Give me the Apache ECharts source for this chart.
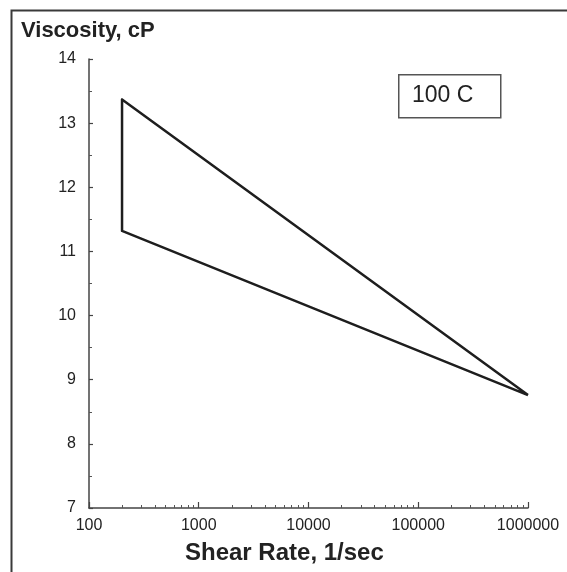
<!DOCTYPE html>
<html>
<head>
<meta charset="utf-8">
<script src="https://cdn.jsdelivr.net/npm/echarts@6/dist/echarts.min.js"></script>
<style>
html,body{margin:0;padding:0;background:#fff;}
#chart{width:567px;height:572px;}
</style>
</head>
<body>
<div id="chart"></div>
<script>
// Data (log x axis)
const shearRate = [1000000, 200, 200, 1000000];
const viscosity = [8.76, 13.37, 11.32, 8.76];
const xMajorTicks = [100, 1000, 10000, 100000, 1000000];
const xMinorTicks = [200,300,400,500,600,700,800,900,2000,3000,4000,5000,6000,7000,8000,9000,20000,30000,40000,50000,60000,70000,80000,90000,200000,300000,400000,500000,600000,700000,800000,900000];
const yTicks = [7, 8, 9, 10, 11, 12, 13, 14];
const yTitle = 'Viscosity, cP';
const xTitle = 'Shear Rate, 1/sec';
const note = '100 C';

const chart = echarts.init(document.getElementById('chart'));
const fontFam = '"Liberation Sans", Arial, sans-serif';
const ink = '#222';
const grid = {left: 89, right: 39, top: 59, bottom: 64};

chart.setOption({
  animation: false,
  backgroundColor: '#fff',
  grid: grid,
  xAxis: [{
    type: 'log', logBase: 10, min: 100, max: 1000000,
    axisLine: {show: true, lineStyle: {color: '#444', width: 1.5}},
    axisTick: {show: true, inside: true, length: 6, lineStyle: {color: '#444', width: 1.2}, customValues: xMajorTicks},
    axisLabel: {show: true, margin: 10, color: ink, fontSize: 16, fontFamily: fontFam, customValues: xMajorTicks, formatter: v => String(v)},
    splitLine: {show: false}, minorTick: {show: false}
  }, {
    type: 'log', logBase: 10, min: 100, max: 1000000, position: 'bottom',
    axisLine: {show: false},
    axisTick: {show: true, inside: true, length: 3, lineStyle: {color: '#555', width: 1}, customValues: xMinorTicks},
    axisLabel: {show: false},
    splitLine: {show: false}
  }],
  yAxis: {
    type: 'value', min: 7, max: 14, interval: 1,
    axisLine: {show: true, lineStyle: {color: '#444', width: 1.5}},
    axisTick: {show: true, inside: true, length: 4, lineStyle: {color: '#444', width: 1.2}},
    minorTick: {show: true, splitNumber: 2, length: 3, lineStyle: {color: '#555', width: 1}},
    axisLabel: {margin: 13, color: ink, fontSize: 16, fontFamily: fontFam,
      formatter: v => (yTicks.indexOf(v) >= 0 ? String(v) : '')},
    splitLine: {show: false}
  },
  series: [{
    type: 'line', xAxisIndex: 0,
    data: shearRate.map((x, i) => [x, viscosity[i]]),
    symbol: 'none',
    lineStyle: {color: '#1e1e1e', width: 2.5, join: 'round'}
  }],
  graphic: [
    {type: 'rect', left: 9, top: 8, shape: {x: 0, y: 0, width: 620, height: 620},
     style: {fill: 'none', stroke: '#3a3a3a', lineWidth: 2}, silent: true},
    {type: 'text', left: 21, top: 20, style: {text: yTitle, font: 'bold 22px ' + fontFam, fill: ink}},
    {type: 'text', left: 185, top: 541, style: {text: xTitle, font: 'bold 24px ' + fontFam, fill: ink}},
    {type: 'rect', left: 398, top: 74, shape: {x: 0, y: 0, width: 102, height: 43},
     style: {fill: '#fff', stroke: '#555', lineWidth: 1.5}},
    {type: 'text', left: 412, top: 84, style: {text: note, font: '23px ' + fontFam, fill: ink}}
  ]
});
</script>
</body>
</html>
